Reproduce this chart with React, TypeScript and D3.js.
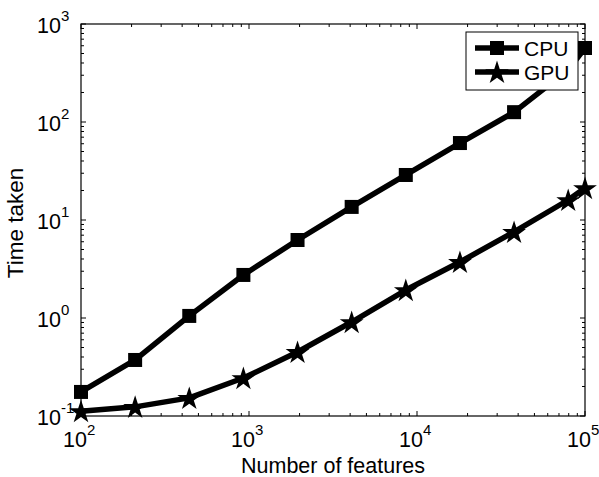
import React from "react";
import * as d3 from "d3";

const features = [100, 210, 441, 926, 1945, 4084, 8577, 18012, 37826, 79434, 100000];
const cpuTime = [0.176, 0.373, 1.05, 2.75, 6.25, 13.6, 28.8, 61, 126, 340, 569];
const gpuTime = [0.112, 0.124, 0.153, 0.244, 0.45, 0.91, 1.93, 3.73, 7.55, 16, 21.2];
const xTickExps = [2, 3, 4, 5];
const yTickExps = [-1, 0, 1, 2, 3];
const seriesNames = ["CPU", "GPU"];

const W = 599, H = 477;
const L = 81, R = 585, T = 24, B = 416;
const FONT = "'Liberation Sans', Arial, Helvetica, sans-serif";

export default function App() {
  const x = d3.scaleLog().domain([1e2, 1e5]).range([L, R]);
  const y = d3.scaleLog().domain([1e-1, 1e3]).range([B, T]);
  const line = d3
    .line<[number, number]>()
    .x((d) => x(d[0]))
    .y((d) => y(d[1]));
  const cpuPts = features.map((f, i) => [f, cpuTime[i]] as [number, number]);
  const gpuPts = features.map((f, i) => [f, gpuTime[i]] as [number, number]);
  const star = d3.symbol(d3.symbolStar, (12.5 * 12.5) / 0.8908130915292852)();
  const sq = 14;

  const xMinor: number[] = [];
  for (let e = 2; e < 5; e++) for (let k = 2; k <= 9; k++) xMinor.push(k * Math.pow(10, e));
  const yMinor: number[] = [];
  for (let e = -1; e < 3; e++) for (let k = 2; k <= 9; k++) yMinor.push(k * Math.pow(10, e));

  const maj = 5, mnr = 3;

  return (
    <div style={{ position: "absolute", left: 0, top: 0 }}>
      <svg width={W} height={H} style={{ display: "block", background: "#fff" }} fontFamily={FONT}>
        <rect x={0} y={0} width={W} height={H} fill="#fff" />
        {/* ticks */}
        <g stroke="#000" strokeWidth={1}>
          {xTickExps.map((e) => {
            const px = x(Math.pow(10, e));
            return (
              <g key={"xt" + e}>
                <line x1={px} x2={px} y1={B} y2={B - maj} />
                <line x1={px} x2={px} y1={T} y2={T + maj} />
              </g>
            );
          })}
          {xMinor.map((v) => {
            const px = x(v);
            return (
              <g key={"xm" + v}>
                <line x1={px} x2={px} y1={B} y2={B - mnr} />
                <line x1={px} x2={px} y1={T} y2={T + mnr} />
              </g>
            );
          })}
          {yTickExps.map((e) => {
            const py = y(Math.pow(10, e));
            return (
              <g key={"yt" + e}>
                <line x1={L} x2={L + maj} y1={py} y2={py} />
                <line x1={R} x2={R - maj} y1={py} y2={py} />
              </g>
            );
          })}
          {yMinor.map((v) => {
            const py = y(v);
            return (
              <g key={"ym" + v}>
                <line x1={L} x2={L + mnr} y1={py} y2={py} />
                <line x1={R} x2={R - mnr} y1={py} y2={py} />
              </g>
            );
          })}
        </g>
        <rect x={L} y={T} width={R - L} height={B - T} fill="none" stroke="#000" strokeWidth={1.2} />

        {/* series */}
        <path d={line(cpuPts) || ""} fill="none" stroke="#000" strokeWidth={5.5} strokeLinejoin="round" />
        <path d={line(gpuPts) || ""} fill="none" stroke="#000" strokeWidth={5.5} strokeLinejoin="round" />
        {cpuPts.map((d, i) => (
          <rect key={"c" + i} x={x(d[0]) - sq / 2} y={y(d[1]) - sq / 2} width={sq} height={sq} fill="#000" />
        ))}
        {gpuPts.map((d, i) => (
          <path key={"g" + i} d={star || ""} transform={`translate(${x(d[0])},${y(d[1]) + 1})`} fill="#000" />
        ))}

        {/* tick labels */}
        {xTickExps.map((e) => {
          const px = x(Math.pow(10, e));
          return (
            <g key={"xl" + e}>
              <text x={px + 6} y={447} fontSize={21.5} textAnchor="end">10</text>
              <text x={px + 6} y={435} fontSize={15}>{String(e)}</text>
            </g>
          );
        })}
        {yTickExps.map((e) => {
          const py = y(Math.pow(10, e));
          return (
            <g key={"yl" + e}>
              <text x={61} y={py + 8.5} fontSize={21.5} textAnchor="end">10</text>
              <text x={61} y={py - 3} fontSize={15}>{String(e)}</text>
            </g>
          );
        })}

        {/* axis labels */}
        <text x={333} y={473} fontSize={21.5} textAnchor="middle">Number of features</text>
        <text transform={`translate(23,223) rotate(-90)`} fontSize={22.5} textAnchor="middle">Time taken</text>

        {/* legend */}
        <rect x={466} y={32} width={112} height={58} fill="#fff" stroke="#000" strokeWidth={1} />
        {seriesNames.map((name, i) => {
          const ly = 48 + i * 24;
          return (
            <g key={name}>
              <line x1={475} x2={519} y1={ly} y2={ly} stroke="#000" strokeWidth={5.5} />
              {i === 0 ? (
                <rect x={497 - sq / 2} y={ly - sq / 2} width={sq} height={sq} fill="#000" />
              ) : (
                <path d={star || ""} transform={`translate(497,${ly + 1})`} fill="#000" />
              )}
              <text x={524} y={ly + 7.5} fontSize={21}>{name}</text>
            </g>
          );
        })}
      </svg>
    </div>
  );
}
